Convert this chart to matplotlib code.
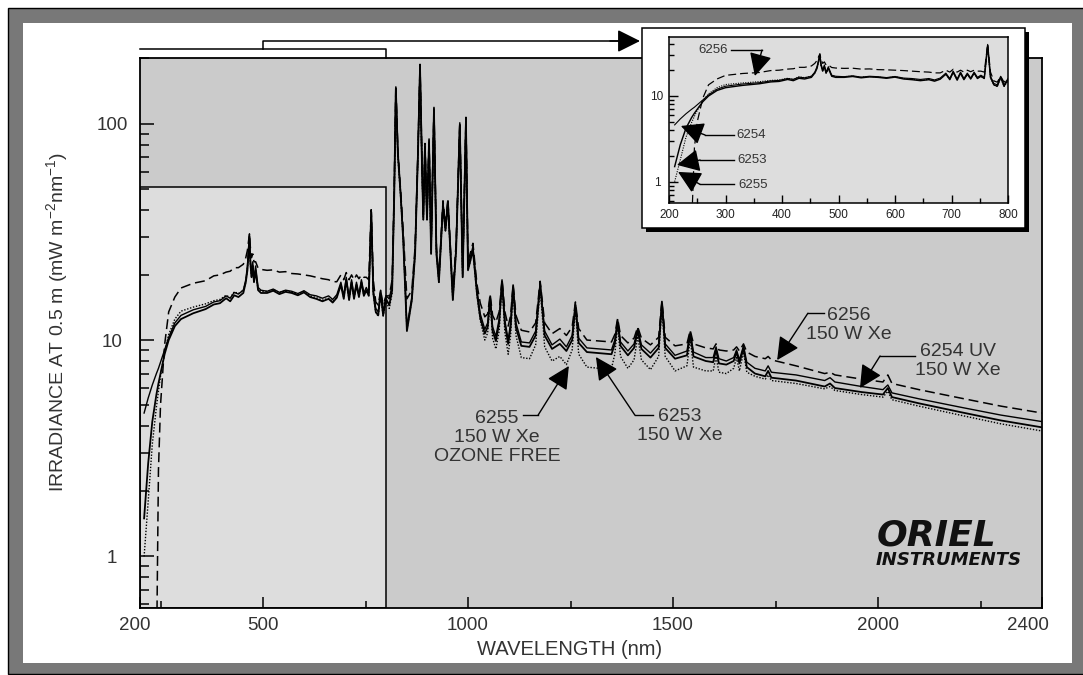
import matplotlib
matplotlib.use("Agg")
import matplotlib.pyplot as plt
from matplotlib.patches import Rectangle, FancyArrowPatch
from matplotlib.lines import Line2D
from matplotlib.ticker import NullFormatter
from matplotlib.transforms import ScaledTranslation

plt.rcParams['font.family'] = ['Liberation Sans', 'DejaVu Sans']
plt.rcParams['mathtext.fontset'] = 'custom'
plt.rcParams['mathtext.rm'] = 'Liberation Sans'
plt.rcParams['mathtext.default'] = 'regular'

nan = float('nan')

# ---------------- data ----------------
wl_uv = [210, 220, 230, 240, 245, 250, 260, 270, 285, 300,
         330, 360, 380, 395, 410, 420, 430, 440, 452, 458,
         462, 465, 467, 469, 472, 475, 478, 482, 488, 495,
         510, 525, 540, 555, 570, 585, 600, 615, 630, 645,
         660, 670, 680, 690, 697, 703, 710, 716, 722, 728,
         734, 740, 746, 752, 758, 764, 769, 775, 781, 787,
         793, 800]

uv_6254 = [4.6, 5.4, 6.2, 7.0, 7.4, 7.9, 9.0, 10.3, 12.0, 13.0,
           13.8, 14.3, 15.0, 15.2, 16.0, 15.6, 16.6, 16.3, 17.0, 19.0,
           22.0, 27.0, 31.0, 24.0, 20.0, 23.0, 19.0, 22.0, 17.5, 17.0,
           16.8, 17.2, 16.6, 17.0, 16.8, 16.4, 16.9, 16.2, 16.0, 15.6,
           16.0, 15.4, 16.2, 18.5, 16.0, 19.5, 15.8, 19.0, 16.0, 18.5,
           16.2, 19.0, 16.5, 17.5, 16.5, 40.0, 17.0, 14.0, 13.5, 17.0,
           13.5, 16.0]

uv_6253 = [1.5, 2.7, 4.2, 5.6, 6.3, 7.0, 8.6, 10.0, 11.6, 12.5,
           13.3, 13.9, 14.6, 14.8, 15.6, 15.1, 16.1, 15.8, 16.5, 18.5,
           21.0, 26.0, 30.0, 23.0, 19.5, 22.0, 18.5, 21.0, 17.0, 16.5,
           16.5, 16.9, 16.3, 16.7, 16.5, 16.1, 16.6, 15.8, 15.5, 15.1,
           15.5, 14.9, 15.7, 18.0, 15.5, 19.0, 15.3, 18.5, 15.5, 18.0,
           15.8, 18.5, 16.0, 17.0, 16.0, 39.0, 16.5, 13.5, 13.0, 16.5,
           13.0, 15.5]

uv_6255 = [1.0, 1.8, 3.3, 4.9, 5.8, 6.8, 8.8, 10.6, 12.5, 13.6,
           14.2, 14.7, 15.2, 15.4, 16.1, 15.7, 16.7, 16.4, 17.0, 18.5,
           21.5, 25.0, 28.0, 22.5, 19.5, 22.0, 18.5, 20.5, 17.2, 16.8,
           16.8, 17.1, 16.6, 16.9, 16.6, 16.3, 16.8, 16.0, 15.7, 15.3,
           15.6, 15.1, 15.9, 17.8, 15.7, 18.8, 15.4, 18.3, 15.6, 17.8,
           15.9, 18.3, 16.1, 16.9, 16.1, 37.0, 16.4, 13.4, 12.9, 16.3,
           12.9, 15.0]

uv_6256 = [nan, nan, nan, 0.3, 2.5, 5.0, 9.5, 13.5, 15.8, 17.4,
           18.3, 18.8, 19.8, 20.0, 20.6, 20.8, 21.6, 21.6, 22.4, 24.0,
           26.0, 29.0, 31.0, 27.0, 24.0, 25.0, 23.0, 23.0, 21.5, 21.2,
           21.0, 21.1, 20.6, 20.7, 20.3, 20.2, 20.0, 19.8, 19.5, 19.2,
           19.0, 18.6, 18.6, 20.0, 19.0, 20.5, 19.0, 20.0, 19.0, 20.0,
           19.2, 20.0, 19.5, 19.5, 19.0, 40.0, 19.0, 15.0, 14.5, 17.0,
           14.5, 16.0]

wl_nir = [808, 815, 820, 824, 829, 836, 842, 851, 863, 871,
          878, 883, 888, 891, 895, 900, 905, 910, 917, 923,
          929, 939, 945, 951, 963, 971, 980, 987, 995, 1000,
          1012, 1022, 1030, 1041, 1048, 1054, 1060, 1068, 1076, 1083,
          1090, 1098, 1104, 1110, 1117, 1130, 1150, 1165, 1176, 1187,
          1205, 1224, 1240, 1254, 1262, 1270, 1290, 1320, 1350, 1358,
          1365, 1372, 1390, 1405, 1414, 1423, 1445, 1465, 1473, 1481,
          1505, 1534, 1542, 1550, 1580, 1598, 1605, 1612, 1630, 1648,
          1655, 1662, 1672, 1680, 1700, 1725, 1732, 1740, 1800, 1870,
          1883, 1895, 1960, 2012, 2024, 2034, 2100, 2200, 2300, 2400]

nir_6256 = [16, 19, 50, 150, 75, 48, 32, 15.5, 17, 27,
            76, 188, 64, 38, 81, 38, 85, 27, 120, 27,
            19.5, 44, 34, 45, 16.5, 28, 102, 21, 107, 23,
            28, 18, 14.8, 12.8, 13.2, 16.3, 13, 12.1, 13.5, 19.2,
            13.5, 11.6, 13, 18.2, 13, 11.1, 10.9, 12, 18.7, 12,
            10.7, 11.3, 10.5, 11.5, 15, 11.3, 10, 9.9, 9.8, 10.6,
            12.6, 10.5, 9.7, 10.2, 11.5, 10.2, 9.5, 10.3, 15.3, 10.3,
            9.4, 9.6, 11.1, 9.6, 9.2, 9.1, 9.6, 9.0, 8.9, 9.0,
            9.3, 8.9, 9.6, 8.8, 8.4, 8.2, 8.4, 8.1, 7.6, 7.0,
            7.1, 6.9, 6.6, 6.4, 6.9, 6.3, 5.9, 5.4, 4.95, 4.6]

nir_6254 = [15.5, 18, 48, 148, 74, 47, 30, 11.5, 15.8, 26,
            75, 186, 63, 37, 80, 37, 84, 26, 119, 26,
            19, 43, 33, 44, 15.8, 27, 101, 20, 106, 22,
            27, 17, 13.2, 11.2, 12, 16, 11.5, 10.4, 12.5, 19,
            12.3, 10, 12, 18, 12, 9.8, 9.7, 11, 18.5, 11,
            9.5, 10.1, 9.3, 10.5, 14.8, 10.2, 9.2, 9.1, 9.0, 10,
            12.4, 9.8, 8.9, 9.6, 11.3, 9.5, 8.7, 9.6, 15.1, 9.6,
            8.5, 8.9, 10.9, 8.8, 8.3, 8.3, 9.3, 8.2, 8.0, 8.3,
            9.0, 8.1, 9.4, 7.9, 7.4, 7.2, 7.6, 7.1, 6.9, 6.5,
            6.7, 6.4, 6.1, 5.9, 6.2, 5.7, 5.35, 4.9, 4.5, 4.2]

nir_6253 = [14.5, 17, 46, 145, 72, 46, 29, 11, 15.3, 25,
            73, 182, 61, 36, 78, 36, 82, 25, 116, 25,
            18.5, 42, 32, 43, 15.3, 26, 98, 19.5, 103, 21,
            26, 16.3, 12.6, 10.7, 11.5, 15.6, 11, 9.9, 12, 18.6,
            11.8, 9.6, 11.5, 17.6, 11.4, 9.4, 9.3, 10.5, 18, 10.5,
            9.1, 9.6, 8.9, 10, 14.5, 9.7, 8.8, 8.7, 8.6, 9.6,
            12.1, 9.4, 8.5, 9.2, 11, 9.1, 8.3, 9.2, 14.8, 9.2,
            8.2, 8.5, 10.6, 8.4, 8.0, 7.9, 9.0, 7.8, 7.7, 8.0,
            8.8, 7.8, 9.2, 7.5, 7.0, 6.8, 7.2, 6.7, 6.5, 6.1,
            6.3, 6.0, 5.75, 5.6, 6.0, 5.45, 5.1, 4.65, 4.25, 3.95]

nir_6255 = [14, 16.5, 45, 140, 70, 45, 29, 11.2, 15.3, 25,
            72, 178, 60, 36, 77, 36, 80, 25, 114, 25,
            18.5, 41, 32, 42, 15.3, 26, 96, 19.5, 100, 21,
            26, 16, 12.3, 10, 10.8, 15.3, 10.2, 9.1, 11, 18.2,
            10.8, 8.6, 10.5, 17.2, 10.5, 8.3, 8.2, 9.5, 17.5, 9.3,
            8.0, 8.4, 7.7, 9, 14, 8.6, 7.5, 7.4, 7.4, 8.6,
            11.6, 8.4, 7.4, 8.1, 10.4, 8.1, 7.3, 8.4, 14.2, 8.4,
            7.2, 7.6, 10.1, 7.5, 7.2, 7.2, 8.4, 7.1, 7.0, 7.4,
            8.3, 7.2, 8.8, 7.1, 6.8, 6.6, 6.9, 6.5, 6.3, 5.95,
            6.1, 5.85, 5.6, 5.45, 5.8, 5.3, 4.95, 4.5, 4.1, 3.8]

x_major = [200, 500, 1000, 1500, 2000, 2400]
x_major_labels = ['200', '500', '1000', '1500', '2000', '2400']
x_minor = [250, 750, 1250, 1750, 2250]
y_major = [1, 10, 100]
y_major_labels = ['1', '10', '100']
y_minor = [0.6, 0.7, 0.8, 0.9, 2, 3, 4, 5, 6, 7, 8, 9,
           20, 30, 40, 50, 60, 70, 80, 90, 200]

ix_major = [200, 300, 400, 500, 600, 700, 800]
ix_major_labels = ['200', '300', '400', '500', '600', '700', '800']
ix_minor = [250, 350, 450, 550, 650, 750]
iy_major = [1, 10]
iy_major_labels = ['1', '10']
iy_minor = [0.6, 0.7, 0.8, 0.9, 2, 3, 4, 5, 6, 7, 8, 9, 20, 30, 40]

main_xlim = (200, 2400)
main_ylim = (0.578, 201)
zoom_xlim = (200, 800)
zoom_ylim = (0.564, 48.8)
zoom_box_top = 51

# ---------------- figure ----------------
W, H = 1083, 675
fig = plt.figure(figsize=(W / 100, H / 100), dpi=100)


def fx(px):
    return px / W


def fy(py):
    return 1 - py / H


def fbox(x0, y0, x1, y1):
    return [fx(x0), fy(y1), fx(x1) - fx(x0), fy(y0) - fy(y1)]


TXT = '#333333'

# outer frame
fig.add_artist(Rectangle((fx(8), fy(674)), fx(1100) - fx(8), fy(8) - fy(674),
                         transform=fig.transFigure, facecolor='#787878',
                         edgecolor='black', lw=1.0, zorder=-10))
fig.add_artist(Rectangle((fx(23), fy(663)), fx(1072) - fx(23), fy(23) - fy(663),
                         transform=fig.transFigure, facecolor='white',
                         edgecolor='none', zorder=-9))

# main axes
ax = fig.add_axes(fbox(140, 58, 1042, 608))
ax.set_facecolor('#cbcbcb')
ax.set_yscale('log')
ax.set_xlim(*main_xlim)
ax.set_ylim(*main_ylim)
ax.add_patch(Rectangle((zoom_xlim[0], main_ylim[0]), zoom_xlim[1] - zoom_xlim[0],
                       zoom_box_top - main_ylim[0], facecolor='#dddddd',
                       edgecolor='black', lw=1.1, zorder=0.5))

wl_all = wl_uv + wl_nir
styles = {
    '6256': dict(lw=1.1, dashes=[6.5, 3.2]),
    '6254': dict(lw=1.0),
    '6253': dict(lw=1.3),
    '6255': dict(lw=1.0, dashes=[1.0, 1.2]),
}
series = {
    '6256': (uv_6256, nir_6256),
    '6254': (uv_6254, nir_6254),
    '6253': (uv_6253, nir_6253),
    '6255': (uv_6255, nir_6255),
}
for name, (uv, nir) in series.items():
    ax.plot(wl_all, uv + nir, color='black', zorder=2, **styles[name])

ax.set_xticks(x_major, labels=x_major_labels)
ax.set_xticks(x_minor, minor=True)
ax.set_yticks(y_major, labels=y_major_labels)
ax.set_yticks(y_minor, minor=True)
ax.yaxis.set_minor_formatter(NullFormatter())
ax.tick_params(axis='both', which='both', direction='in', width=1.1,
               color='black', labelcolor=TXT)
ax.tick_params(axis='x', which='major', length=8, pad=6.5, labelsize=13.5)
ax.tick_params(axis='x', which='minor', length=5)
ax.tick_params(axis='y', which='major', length=10, pad=20, labelsize=13.5)
ax.tick_params(axis='y', which='minor', length=6.3)
for t in ax.get_yticklabels():
    t.set_ha('center')
xl = ax.get_xticklabels()
xl[-1].set_transform(xl[-1].get_transform() + ScaledTranslation(-0.14, 0, fig.dpi_scale_trans))
xl[0].set_transform(xl[0].get_transform() + ScaledTranslation(-0.05, 0, fig.dpi_scale_trans))
for s in ax.spines.values():
    s.set_linewidth(1.3)

ax.set_xlabel('WAVELENGTH (nm)', fontsize=14.5, color=TXT)
ax.xaxis.set_label_coords((570 - 140) / 902, -(640 - 608) / 550)
ax.set_ylabel('IRRADIANCE AT 0.5 m (mW m$^{-2}$nm$^{-1}$)', fontsize=14, color=TXT)
ax.yaxis.set_label_coords(-(140 - 57) / 902, (608 - 322) / 550)
ax.yaxis.label.set_va('center')

ARROW = '-|>,head_length=1.0,head_width=0.5'


def callout(a, label, text_xy, line_end, elbow, tip, fs):
    a.text(text_xy[0], text_xy[1], label, ha='center', va='center',
           fontsize=fs, color=TXT, linespacing=1.15, zorder=6)
    a.plot([line_end[0], elbow[0]], [line_end[1], elbow[1]], color='black',
           lw=1.0, clip_on=False, zorder=6)
    a.annotate('', xy=tip, xytext=elbow,
               arrowprops=dict(arrowstyle=ARROW, color='black', lw=1.0,
                               shrinkA=0, shrinkB=0, mutation_scale=14),
               zorder=6)


callout(ax, '6256\n150 W Xe', (1929, 11.7), (1868, 13.3), (1829, 13.3), (1754, 8.08), 14)
callout(ax, '6254 UV\n150 W Xe', (2195, 8.0), (2090, 8.44), (2005, 8.44), (1956, 6.0), 14)
callout(ax, '6255\n150 W Xe\nOZONE FREE', (1071, 3.56), (1134, 4.5), (1171, 4.5), (1246, 7.59), 14)
callout(ax, '6253\n150 W Xe', (1517, 4.0), (1451, 4.5), (1407, 4.5), (1312, 8.35), 14)

# logo
fig.text(fx(877), fy(545), 'ORIEL', fontsize=26, fontweight='bold',
         fontstyle='italic', family='DejaVu Sans', color='#111111',
         ha='left', va='baseline')
fig.text(fx(876), fy(551), 'INSTRUMENTS', fontsize=13, fontweight='bold',
         fontstyle='italic', family='DejaVu Sans', color='#111111',
         ha='left', va='top')


# zoom bracket
def fline(pts):
    fig.add_artist(Line2D([fx(p[0]) for p in pts], [fy(p[1]) for p in pts],
                          transform=fig.transFigure, color='black', lw=1.1,
                          zorder=2))


fline([(140, 49), (386, 49), (386, 58)])
fline([(263, 49), (263, 41), (625, 41)])
fig.add_artist(FancyArrowPatch((fx(610), fy(41)), (fx(640), fy(41)),
                               transform=fig.transFigure, arrowstyle=ARROW,
                               mutation_scale=14, color='black', lw=1.1,
                               shrinkA=0, shrinkB=0, zorder=2))

# inset box with shadow
fig.add_artist(Rectangle((fx(646), fy(232)), fx(1029) - fx(646), fy(32) - fy(232),
                         transform=fig.transFigure, facecolor='black',
                         edgecolor='none', zorder=3))
fig.add_artist(Rectangle((fx(642), fy(228)), fx(1025) - fx(642), fy(28) - fy(228),
                         transform=fig.transFigure, facecolor='white',
                         edgecolor='black', lw=1.1, zorder=3.5))

axi = fig.add_axes(fbox(669, 37, 1008, 203), zorder=5)
axi.set_facecolor('#dddddd')
axi.set_yscale('log')
for name, (uv, nir) in series.items():
    st = dict(styles[name])
    st['lw'] = st['lw'] * 0.8
    axi.plot(wl_uv, uv, color='black', **st)
axi.set_xlim(*zoom_xlim)
axi.set_ylim(*zoom_ylim)
axi.set_xticks(ix_major, labels=ix_major_labels)
axi.set_xticks(ix_minor, minor=True)
axi.set_yticks(iy_major, labels=iy_major_labels)
axi.set_yticks(iy_minor, minor=True)
axi.yaxis.set_minor_formatter(NullFormatter())
axi.tick_params(axis='both', which='both', direction='in', width=1.0,
                color='black', labelcolor='#222222', labelsize=8.5)
axi.tick_params(axis='x', which='major', length=6, pad=4)
axi.tick_params(axis='x', which='minor', length=3.5)
axi.tick_params(axis='y', which='major', length=6.5, pad=8.6)
axi.tick_params(axis='y', which='minor', length=3.5)
for t in axi.get_yticklabels():
    t.set_ha('center')
for s in axi.spines.values():
    s.set_linewidth(1.1)

callout(axi, '6256', (278, 34.4), (309.7, 34.4), (364.6, 34.4), (352, 17.1), 9.5)
callout(axi, '6254', (345, 3.51), (315, 3.51), (263.7, 3.51), (221, 4.47), 9.5)
callout(axi, '6253', (347, 1.79), (315, 1.79), (255, 1.79), (214, 1.57), 9.5)
callout(axi, '6255', (349, 0.915), (315, 0.93), (255, 0.93), (216, 1.30), 9.5)

fig.savefig('out.png', dpi=100)
